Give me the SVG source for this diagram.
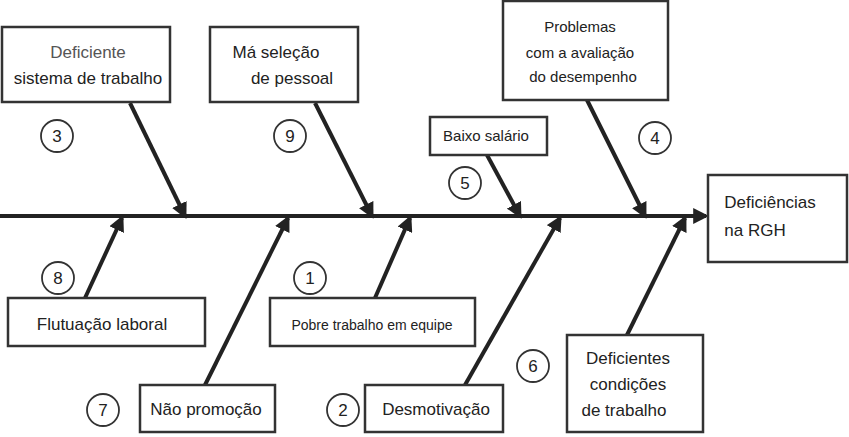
<svg xmlns="http://www.w3.org/2000/svg" width="849" height="437" viewBox="0 0 849 437">
<style>
.box{fill:#fff;stroke:#333;stroke-width:2.5}
.t{font-family:"Liberation Sans",Arial,sans-serif;font-size:17px;fill:#222;text-anchor:middle}
.g{fill:#555}
.s{font-size:15px}
.c{fill:#fff;stroke:#333;stroke-width:1.8}
.n{font-family:"Liberation Sans",Arial,sans-serif;font-size:17px;fill:#222;text-anchor:middle}
.l{stroke:#222;stroke-width:4;fill:none;marker-end:url(#a)}
</style>
<defs><marker id="a" viewBox="0 0 10 10" refX="8" refY="5" markerWidth="4" markerHeight="4" orient="auto" markerUnits="strokeWidth"><path d="M0,0L10,5L0,10z" fill="#222"/></marker></defs>
<g id="connectors">
<line class="l" x1="0" y1="216" x2="706" y2="216"/>
<line class="l" x1="130" y1="103" x2="185" y2="216"/>
<line class="l" x1="315" y1="103" x2="372" y2="216"/>
<line class="l" x1="487" y1="155" x2="520" y2="216"/>
<line class="l" x1="587" y1="100" x2="645" y2="216"/>
<line class="l" x1="85" y1="298" x2="122" y2="218"/>
<line class="l" x1="375" y1="298" x2="410" y2="218"/>
<line class="l" x1="205" y1="385" x2="288" y2="218"/>
<line class="l" x1="465" y1="385" x2="560" y2="218"/>
<line class="l" x1="627" y1="335" x2="685" y2="218"/>
</g>
<g id="effect"><rect class="box" x="708" y="175" width="139" height="87"/><text class="t" x="770" y="208">Deficiências</text><text class="t" x="755" y="236">na RGH</text></g>
<g id="n3"><rect class="box" x="2" y="27" width="168" height="75"/><text class="t g" x="88" y="58">Deficiente</text><text class="t" x="88" y="84">sistema de trabalho</text></g>
<g id="n9"><rect class="box" x="210" y="27" width="148" height="75"/><text class="t" x="276" y="58">Má seleção</text><text class="t" x="292" y="84">de pessoal</text></g>
<g id="n5"><rect class="box" x="430" y="117" width="117" height="38"/><text class="t s" x="486" y="141">Baixo salário</text></g>
<g id="n4"><rect class="box" x="503" y="1" width="165" height="99"/><text class="t s" x="580" y="32">Problemas</text><text class="t s" x="580" y="58">com a avaliação</text><text class="t s" x="583" y="82">do desempenho</text></g>
<g id="n8"><rect class="box" x="8" y="298" width="197" height="48"/><text class="t" x="102" y="330">Flutuação laboral</text></g>
<g id="n1"><rect class="box" x="270" y="298" width="205" height="48"/><text class="t" x="372" y="330" style="font-size:14px">Pobre trabalho em equipe</text></g>
<g id="n7"><rect class="box" x="140" y="385" width="135" height="47"/><text class="t" x="206" y="415">Não promoção</text></g>
<g id="n2"><rect class="box" x="365" y="385" width="138" height="47"/><text class="t" x="436" y="415">Desmotivação</text></g>
<g id="n6"><rect class="box" x="567" y="335" width="136" height="97"/><text class="t" x="628" y="364">Deficientes</text><text class="t" x="628" y="390">condições</text><text class="t" x="624" y="416">de trabalho</text></g>
<g id="numbers">
<circle class="c" cx="57" cy="136" r="16"/><text class="n" x="57" y="142">3</text>
<circle class="c" cx="290" cy="136" r="16"/><text class="n" x="290" y="142">9</text>
<circle class="c" cx="465" cy="183" r="16"/><text class="n" x="465" y="189">5</text>
<circle class="c" cx="655" cy="138" r="16"/><text class="n" x="655" y="144">4</text>
<circle class="c" cx="58" cy="278" r="16"/><text class="n" x="58" y="284">8</text>
<circle class="c" cx="310" cy="278" r="16"/><text class="n" x="310" y="284">1</text>
<circle class="c" cx="103" cy="410" r="16"/><text class="n" x="103" y="416">7</text>
<circle class="c" cx="343" cy="410" r="16"/><text class="n" x="343" y="416">2</text>
<circle class="c" cx="533" cy="366" r="16"/><text class="n" x="533" y="372">6</text>
</g>
</svg>
